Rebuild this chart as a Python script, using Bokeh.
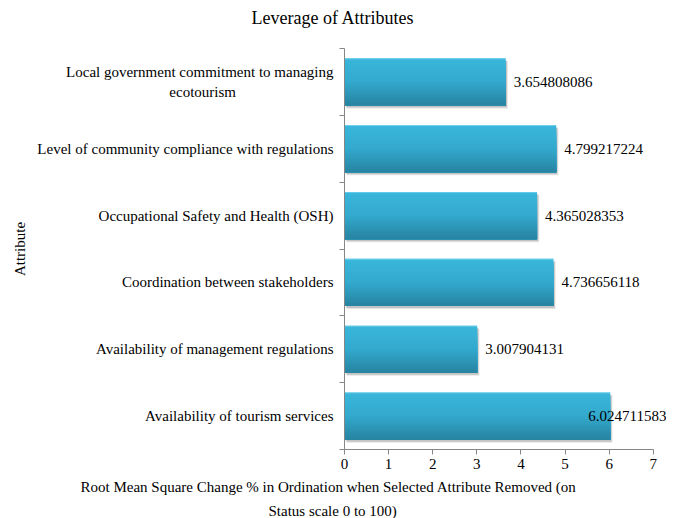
from bokeh.plotting import figure
from bokeh.models import ColumnDataSource, FixedTicker, LabelSet, Range1d, Title
from bokeh.transform import dodge
from bokeh.core.properties import value
from bokeh.embed import file_html
from bokeh.resources import INLINE

# ---- data (top to bottom as displayed) ----
attributes = [
    "Local government commitment to managing ecotourism",
    "Level of community compliance with regulations",
    "Occupational Safety and Health (OSH)",
    "Coordination between stakeholders",
    "Availability of management regulations",
    "Availability of tourism services",
]
leverage = [3.654808086, 4.799217224, 4.365028353, 4.736656118, 3.007904131, 6.024711583]
x_ticks = [0, 1, 2, 3, 4, 5, 6, 7]
chart_title = "Leverage of Attributes"
x_title_lines = [
    "Root Mean Square Change % in Ordination when Selected Attribute Removed (on",
    "Status scale 0 to 100)",
]
y_title = "Attribute"

FONT = "Liberation Serif"
n = len(attributes)
ypos = [n - 1 - i + 0.5 for i in range(n)]
labels = [f"{v:.9f}" for v in leverage]
label_dx = [8, 8, 8, 8, 8, -22]

# tick label text: wrap the long first label onto two centred lines
NB = "\u00a0"
tick_text = list(attributes)
tick_text[0] = "Local government commitment to managing\n" + "ecotourism" + NB * 26

src = ColumnDataSource(dict(y=ypos, value=leverage, text=labels, xo=label_dx))

p = figure(width=686, height=518, output_backend="svg", toolbar_location=None,
           x_range=Range1d(0, 7.3), y_range=Range1d(0, n),
           min_border_left=344, min_border_right=20, min_border_top=40, min_border_bottom=0)
p.outline_line_color = None
p.xgrid.visible = False
p.ygrid.visible = False
p.background_fill_color = "white"

BAR_H = 0.705

# shadow
p.hbar(y=dodge("y", -0.045, range=p.y_range), left=0.05, right=dodge("value", 0.05, range=p.x_range),
       height=BAR_H, source=src, fill_color="#000000", fill_alpha=0.10, line_color=None)
p.hbar(y=dodge("y", -0.03, range=p.y_range), left=0.03, right=dodge("value", 0.03, range=p.x_range),
       height=BAR_H, source=src, fill_color="#000000", fill_alpha=0.15, line_color=None)

# gradient bars: nested bars covering progressively lower parts
def lerp(c1, c2, t):
    a = [int(c1[i:i + 2], 16) for i in (1, 3, 5)]
    b = [int(c2[i:i + 2], 16) for i in (1, 3, 5)]
    return "#%02x%02x%02x" % tuple(round(a[j] + (b[j] - a[j]) * t) for j in range(3))

N = 18
top_c, mid_c, bot_c = "#3ab6db", "#33a9cd", "#2885a3"
for k in range(N):
    t = k / (N - 1)
    col = lerp(top_c, mid_c, t / 0.5) if t < 0.5 else lerp(mid_c, bot_c, (t - 0.5) / 0.5)
    hk = BAR_H * (1 - k / N)
    off = -BAR_H / 2 + hk / 2
    p.hbar(y=dodge("y", off, range=p.y_range), left=0, right="value", height=hk,
           source=src, fill_color=col, line_color=None)
# light top edge
p.hbar(y=dodge("y", BAR_H / 2 - 0.006, range=p.y_range), left=0, right="value", height=0.012,
       source=src, fill_color="#6fd0ee", line_color=None)

# value labels
p.add_layout(LabelSet(x="value", y="y", text="text", x_offset="xo", source=src,
                      text_baseline="middle", text_align="left",
                      text_font=value(FONT), text_font_size="15px", text_color="black"))

# x axis
xa = p.xaxis[0]
xa.ticker = FixedTicker(ticks=x_ticks)
xa.bounds = (0, 7)
xa.axis_line_color = "#868686"
xa.major_tick_line_color = "#868686"
xa.major_tick_out = 5
xa.major_tick_in = 0
xa.minor_tick_line_color = None
xa.major_label_text_font = FONT
xa.major_label_text_font_size = "15px"
xa.major_label_text_color = "black"
xa.major_label_standoff = 4

# y axis
ya = p.yaxis[0]
ya.ticker = FixedTicker(ticks=ypos, minor_ticks=list(range(n + 1)))
ya.major_label_overrides = {ypos[i]: tick_text[i] for i in range(n)}
ya.axis_line_color = "#868686"
ya.major_tick_line_color = None
ya.major_tick_out = 0
ya.major_tick_in = 0
ya.minor_tick_line_color = "#868686"
ya.minor_tick_out = 5
ya.minor_tick_in = 0
ya.major_label_text_font = FONT
ya.major_label_text_font_size = "15px"
ya.major_label_text_color = "black"
ya.major_label_standoff = 6
ya.axis_label = y_title
ya.axis_label_text_font = FONT
ya.axis_label_text_font_size = "15px"
ya.axis_label_text_font_style = "normal"
ya.axis_label_text_color = "black"
ya.axis_label_standoff = 6

# chart title, with a small spacer between it and the plot area
p.title = Title(text=chart_title, align="left", offset=-93, text_font=FONT,
                text_font_size="18px", text_font_style="normal", text_color="black",
                vertical_align="top", standoff=15)
p.add_layout(Title(text=" ", text_font_size="1px", standoff=8), "above")
# x-axis title, two lines
p.add_layout(Title(text=x_title_lines[0], align="left", offset=-264, text_font=FONT,
                   text_font_size="15px", text_font_style="normal", text_color="black",
                   standoff=11), "below")
p.add_layout(Title(text=x_title_lines[1], align="left", offset=-76, text_font=FONT,
                   text_font_size="15px", text_font_style="normal", text_color="black",
                   standoff=0), "below")

open("out.html", "w").write(file_html(p, INLINE))
